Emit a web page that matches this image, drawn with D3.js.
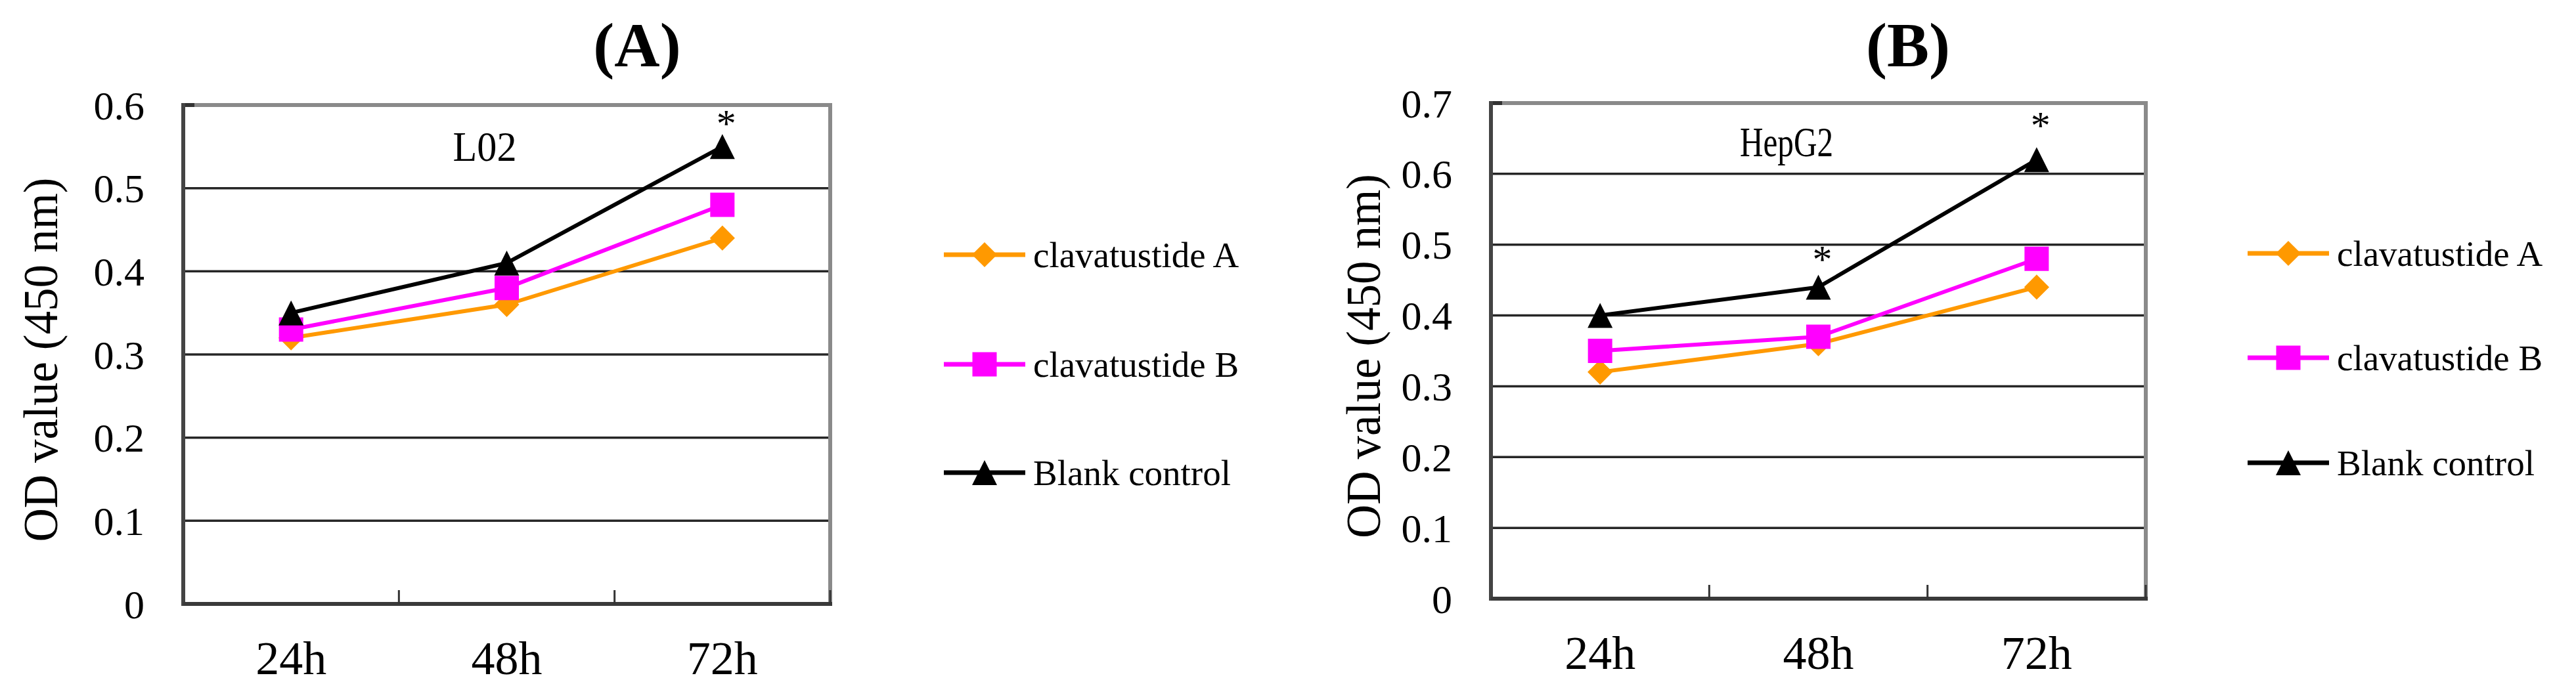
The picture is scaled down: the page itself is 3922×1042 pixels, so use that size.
<!DOCTYPE html>
<html>
<head>
<meta charset="utf-8">
<script src="https://cdn.jsdelivr.net/npm/d3@7"></script>
<style>
  html, body { margin: 0; padding: 0; background: #fff; }
  svg { display: block; font-family: "Liberation Serif", "Times New Roman", serif; }
</style>
</head>
<body>
<svg id="chart" width="3922" height="1042"></svg>
<script>
// categories and values
const categories = ["24h", "48h", "72h"];
const seriesNames = ["clavatustide A", "clavatustide B", "Blank control"];
const seriesColors = ["#ff9900", "#ff00ff", "#000000"];

const l02ClavA = [0.32, 0.36, 0.44];
const l02ClavB = [0.33, 0.38, 0.48];
const l02Blank = [0.35, 0.41, 0.55];
const l02Ticks = [0, 0.1, 0.2, 0.3, 0.4, 0.5, 0.6];
const l02Stars = [{ cat: "72h", level: 0.584 }];

const hepClavA = [0.32, 0.36, 0.44];
const hepClavB = [0.35, 0.37, 0.48];
const hepBlank = [0.40, 0.44, 0.62];
const hepTicks = [0, 0.1, 0.2, 0.3, 0.4, 0.5, 0.6, 0.7];
const hepStars = [
  { cat: "48h", level: 0.487 },
  { cat: "72h", level: 0.676 }
];

const svg = d3.select("#chart");
svg.append("rect").attr("width", 3922).attr("height", 1042).attr("fill", "#fff");

// excel-like triangle: width == height, centred on its box
const triangleType = {
  draw(ctx, size) {
    const h = Math.sqrt(size);
    ctx.moveTo(0, -h / 2);
    ctx.lineTo(h / 2, h / 2);
    ctx.lineTo(-h / 2, h / 2);
    ctx.closePath();
  }
};
const markerFor = (i) => {
  if (i === 0) return { path: d3.symbol(d3.symbolSquare, 27 * 27)(), rotate: 45 };
  if (i === 1) return { path: d3.symbol(d3.symbolSquare, 37 * 37)(), rotate: 0 };
  return { path: d3.symbol(triangleType, 38 * 38)(), rotate: 0 };
};

const drawPanel = (p) => {
  const g = svg.append("g");
  const x = d3.scaleBand().domain(categories).range([p.left, p.right]);
  const y = d3.scaleLinear().domain([0, p.yMax]).range([p.bottom, p.top]);

  // gridlines
  g.selectAll(".grid")
    .data(p.ticks.filter((t) => t > 0 && t < p.yMax))
    .enter()
    .append("line")
    .attr("x1", p.left)
    .attr("x2", p.right)
    .attr("y1", (d) => y(d))
    .attr("y2", (d) => y(d))
    .attr("stroke", "#262626")
    .attr("stroke-width", 3.5);

  // frame
  g.append("line").attr("x1", p.left).attr("x2", p.right + 3)
    .attr("y1", y(p.yMax)).attr("y2", y(p.yMax))
    .attr("stroke", "#8a8a8a").attr("stroke-width", 6);
  g.append("line").attr("x1", p.right).attr("x2", p.right)
    .attr("y1", y(p.yMax)).attr("y2", y(0))
    .attr("stroke", "#8a8a8a").attr("stroke-width", 6);
  g.append("line").attr("x1", p.left).attr("x2", p.left + 17)
    .attr("y1", y(p.yMax)).attr("y2", y(p.yMax))
    .attr("stroke", "#333").attr("stroke-width", 6);
  g.append("line").attr("x1", p.left).attr("x2", p.left)
    .attr("y1", y(p.yMax) - 3).attr("y2", y(0) + 3)
    .attr("stroke", "#444").attr("stroke-width", 6);
  g.append("line").attr("x1", p.left).attr("x2", p.right + 3)
    .attr("y1", y(0)).attr("y2", y(0))
    .attr("stroke", "#3a3a3a").attr("stroke-width", 6);

  // inward category ticks
  const tickXs = categories.slice(1).map((c) => x(c)).concat([p.right]);
  g.selectAll(".xtick")
    .data(tickXs)
    .enter()
    .append("line")
    .attr("x1", (d) => d)
    .attr("x2", (d) => d)
    .attr("y1", y(0))
    .attr("y2", y(0) - 21)
    .attr("stroke", "#333")
    .attr("stroke-width", 3);

  // y axis labels
  const yAxis = g.append("g")
    .attr("transform", `translate(${p.left - 59},0)`)
    .call(d3.axisLeft(y).tickValues(p.ticks).tickSize(0).tickPadding(0)
      .tickFormat((d) => (d === 0 ? "0" : d3.format(".1f")(d))));
  yAxis.select(".domain").remove();
  yAxis.selectAll("text")
    .attr("x", 0)
    .attr("dy", "0.34em")
    .attr("fill", "#000")
    .style("font-family", "Liberation Serif")
    .style("font-size", "62px");

  // x axis labels
  const xAxis = g.append("g")
    .attr("transform", `translate(0,${y(0)})`)
    .call(d3.axisBottom(x).tickSize(0).tickPadding(0));
  xAxis.select(".domain").remove();
  xAxis.selectAll("text")
    .attr("y", 107)
    .attr("dy", 0)
    .attr("fill", "#000")
    .style("font-family", "Liberation Serif")
    .style("font-size", "72px");

  // series lines and markers
  const cx = (c) => x(c) + x.bandwidth() / 2;
  const line = d3.line().x((d, i) => cx(categories[i])).y((d) => y(d));
  p.series.forEach((vals, si) => {
    g.append("path")
      .datum(vals)
      .attr("d", line)
      .attr("fill", "none")
      .attr("stroke", seriesColors[si])
      .attr("stroke-width", 6)
      .attr("stroke-linejoin", "round");
  });
  p.series.forEach((vals, si) => {
    const m = markerFor(si);
    g.selectAll(".m" + si)
      .data(vals)
      .enter()
      .append("path")
      .attr("d", m.path)
      .attr("transform", (d, i) => `translate(${cx(categories[i])},${y(d)}) rotate(${m.rotate})`)
      .attr("fill", seriesColors[si]);
  });

  // significance stars
  g.selectAll(".star")
    .data(p.stars)
    .enter()
    .append("text")
    .attr("x", (d) => cx(d.cat) + 6)
    .attr("y", (d) => y(d.level))
    .attr("dy", "0.47em")
    .attr("text-anchor", "middle")
    .style("font-size", "60px")
    .text("*");

  // cell line label
  g.append("text")
    .attr("x", p.cellX)
    .attr("y", p.cellY)
    .attr("text-anchor", "middle")
    .attr("textLength", p.cellLen)
    .attr("lengthAdjust", "spacingAndGlyphs")
    .style("font-size", "64px")
    .text(p.cell);

  // panel title
  g.append("text")
    .attr("x", p.titleX)
    .attr("y", 101)
    .attr("text-anchor", "middle")
    .style("font-size", "96px")
    .style("font-weight", "bold")
    .text(p.title);

  // y title
  g.append("text")
    .attr("transform", `translate(${p.yLabelX},${(y(0) + y(p.yMax)) / 2 + 8}) rotate(-90)`)
    .attr("text-anchor", "middle")
    .attr("textLength", 555)
    .attr("lengthAdjust", "spacingAndGlyphs")
    .style("font-size", "74px")
    .text("OD value (450 nm)");

  // legend
  const lg = g.selectAll(".legend")
    .data(seriesNames)
    .enter()
    .append("g")
    .attr("transform", (d, i) => `translate(${p.legendX},${p.legendRows[i]})`);
  lg.append("line")
    .attr("x1", 0).attr("x2", 124).attr("y1", 0).attr("y2", 0)
    .attr("stroke", (d, i) => seriesColors[i])
    .attr("stroke-width", 7);
  lg.append("path")
    .attr("d", (d, i) => markerFor(i).path)
    .attr("transform", (d, i) => `translate(62,0) rotate(${markerFor(i).rotate})`)
    .attr("fill", (d, i) => seriesColors[i]);
  lg.append("text")
    .attr("x", 136)
    .attr("y", 19)
    .style("font-size", "55px")
    .text((d) => d);
};

drawPanel({
  title: "(A)", titleX: 970,
  cell: "L02", cellX: 738, cellY: 245, cellLen: 97,
  left: 279, right: 1264, top: 160, bottom: 920, yMax: 0.6,
  ticks: l02Ticks, series: [l02ClavA, l02ClavB, l02Blank], stars: l02Stars,
  yLabelX: 87, legendX: 1437, legendRows: [388, 555, 720]
});
drawPanel({
  title: "(B)", titleX: 2905,
  cell: "HepG2", cellX: 2720, cellY: 238, cellLen: 142,
  left: 2270, right: 3267, top: 157, bottom: 912, yMax: 0.7,
  ticks: hepTicks, series: [hepClavA, hepClavB, hepBlank], stars: hepStars,
  yLabelX: 2101, legendX: 3422, legendRows: [386, 545, 705]
});
</script>
</body>
</html>
